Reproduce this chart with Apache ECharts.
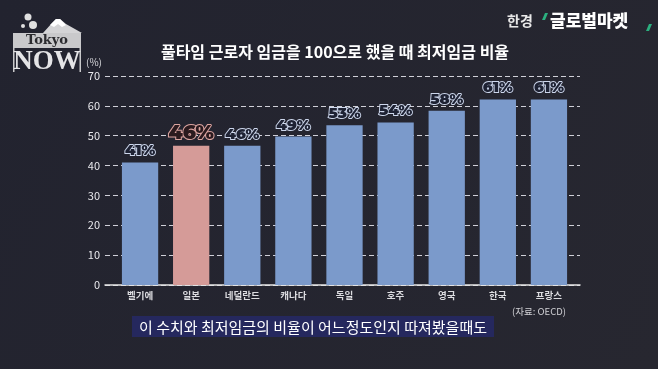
<!DOCTYPE html>
<html><head><meta charset="utf-8">
<script src="https://cdn.jsdelivr.net/npm/echarts@6/dist/echarts.min.js"></script>
<style>html,body{margin:0;padding:0;background:#23242f;}#c{width:658px;height:369px;}</style>
</head><body><div id="c"></div>
<script>
const categories = ['벨기에','일본','네덜란드','캐나다','독일','호주','영국','한국','프랑스'];
const values = [41, 46.6, 46.6, 49.7, 53.5, 54.4, 58.4, 62.1, 62.1];
const valueLabels = ['41%','46%','46%','49%','53%','54%','58%','61%','61%'];
const highlight = '일본';
const yTicks = [0,10,20,30,40,50,60,70];

const chart = echarts.init(document.getElementById('c'));
const F = '"Noto Sans CJK KR","Noto Sans",sans-serif';
const LF = '"Montserrat","Inter","Noto Sans",sans-serif';
const data = values.map((v,i)=>{
  const hi = categories[i]===highlight;
  return {
    value: v,
    itemStyle: {color: hi ? '#d59b98' : '#7b9acb'},
    label: hi ? {fontSize: 20, color:'#2a1a1e', textBorderColor:'#dba4a0', textBorderWidth:2, distance:3} : {}
  };
});
chart.setOption({
  backgroundColor: {type:'linear',x:0,y:0,x2:1,y2:1,colorStops:[{offset:0,color:'#22232f'},{offset:1,color:'#272730'}]},
  animation: false,
  title: {text:'풀타임 근로자 임금을 100으로 했을 때 최저임금 비율', left: 330, top: 39, textAlign:'center',
    textStyle:{color:'#ffffff', fontSize:16, fontWeight:'bold', fontFamily:F}},
  grid: [
    {left:105, right:78, top:76, bottom:84},
    {left:114.5, right:83.5, top:76, bottom:84}
  ],
  xAxis: [
    {gridIndex:0, type:'value', min:0, max:1, axisLine:{show:true, onZero:false, lineStyle:{color:'#e6e6e6', width:1.5}},
      axisTick:{show:false}, axisLabel:{show:false}, splitLine:{show:false}},
    {gridIndex:1, type:'category', data:categories, axisLine:{show:false}, axisTick:{show:false},
      axisLabel:{color:'#dcdce0', fontSize:9.5, fontWeight:'bold', fontFamily:F, margin:6}}
  ],
  yAxis: [
    {gridIndex:0, type:'value', min:0, max:70, interval:10, name:'(%)', nameGap:9,
      nameTextStyle:{color:'#d8d8dc', fontSize:10, fontFamily:F, padding:[0,22,0,0]},
      axisLine:{show:false}, axisTick:{show:false},
      axisLabel:{color:'#e8e8ec', fontSize:11, fontFamily:F, margin:5,
        formatter:(v)=>yTicks.includes(v)?String(v):''},
      splitLine:{show:true, lineStyle:{color:'#d0d0d8', type:[5,3], width:1}}},
    {gridIndex:1, type:'value', min:0, max:70, interval:10, show:false, splitLine:{show:false}}
  ],
  series: [{
    type:'bar', xAxisIndex:1, yAxisIndex:1, data:data, barWidth:'71%',
    label:{show:true, position:'top', distance:4, formatter:(p)=>valueLabels[p.dataIndex],
      color:'#1e2233', fontSize:15, fontWeight:900, fontFamily:LF,
      textBorderColor:'#cdd7ec', textBorderWidth:1.8}
  }],
  graphic: [
    // logo
    {type:'polygon', shape:{points:[[43,33],[52,23],[56,19],[60,19],[66,24],[82,33]]}, style:{fill:'#d4d4d6'}},
    {type:'polygon', shape:{points:[[50,25],[56,19],[60,19],[66,25],[62,27],[58,24],[54,27]]}, style:{fill:'#ffffff'}},
    {type:'circle', shape:{cx:28,cy:17,r:3.5}, style:{fill:'#e0e0e0'}},
    {type:'circle', shape:{cx:33,cy:25,r:4}, style:{fill:'#e0e0e0'}},
    {type:'circle', shape:{cx:23,cy:26,r:2}, style:{fill:'#e0e0e0'}},
    {type:'rect', shape:{x:13,y:33,width:68,height:15}, style:{fill:'#c9c9cb'}},
    {type:'rect', shape:{x:13,y:48,width:1.5,height:24}, style:{fill:'#c9c9cb'}},
    {type:'rect', shape:{x:79.5,y:48,width:1.5,height:24}, style:{fill:'#c9c9cb'}},
    {type:'text', x:47, y:41, style:{text:'Tokyo', fill:'#2b2b2f', font:'bold 13px "DejaVu Serif",serif', textAlign:'center', textVerticalAlign:'middle'}},
    {type:'text', x:47, y:62, style:{text:'NOW', fill:'#e4e4e6', font:'bold 27px "Liberation Serif",serif', textAlign:'center', textVerticalAlign:'middle'}},
    // brand
    {type:'text', x:507, y:21, style:{text:'한경', fill:'#e8e8e8', font:'bold 14px "Noto Sans CJK KR"', textAlign:'left', textVerticalAlign:'middle'}},
    {type:'polygon', shape:{points:[[545,13],[548,13],[545,20],[542,20]]}, style:{fill:'#2bb07f'}},
    {type:'text', x:550, y:21, style:{text:'글로벌마켓', fill:'#ffffff', font:'900 17px "Noto Sans CJK KR"', textAlign:'left', textVerticalAlign:'middle'}},
    {type:'polygon', shape:{points:[[649,24],[652,24],[649,31],[646,31]]}, style:{fill:'#2bb07f'}},
    // source
    {type:'text', x:539, y:311, style:{text:'(자료: OECD)', fill:'#d0d0d4', font:'9.5px "Noto Sans CJK KR"', textAlign:'center', textVerticalAlign:'middle'}},
    // caption
    {type:'rect', shape:{x:132,y:316,width:362,height:21}, style:{fill:'#25285e'}},
    {type:'text', x:313, y:327, style:{text:'이 수치와 최저임금의 비율이 어느정도인지 따져봤을때도', fill:'#ffffff', font:'15px "Noto Sans CJK KR"', textAlign:'center', textVerticalAlign:'middle'}}
  ]
});
</script></body></html>
